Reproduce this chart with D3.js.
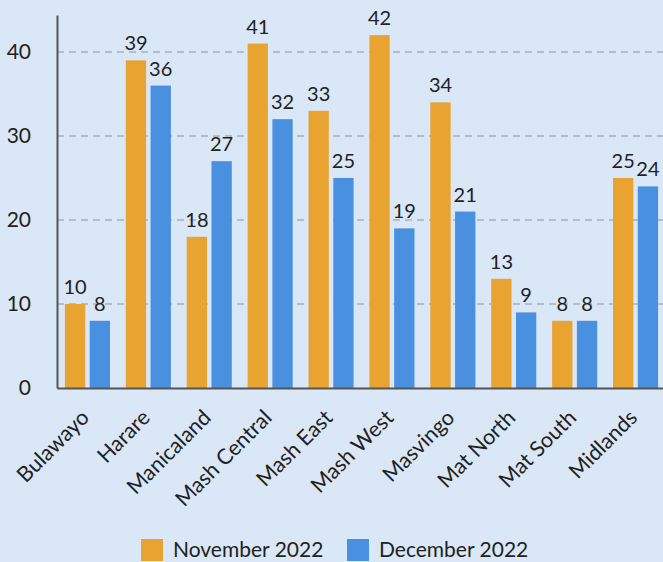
<!DOCTYPE html>
<html>
<head>
<meta charset="utf-8">
<script src="https://cdn.jsdelivr.net/npm/d3@7"></script>
<style>
  html, body { margin: 0; padding: 0; background: #d9e7f7; }
  svg { display: block; font-family: Lato, "Open Sans", sans-serif; }
</style>
</head>
<body>
<div id="chart"></div>
<script>
var regions = ["Bulawayo", "Harare", "Manicaland", "Mash Central", "Mash East",
               "Mash West", "Masvingo", "Mat North", "Mat South", "Midlands"];
var november = [10, 39, 18, 41, 33, 42, 34, 13, 8, 25];
var december = [8, 36, 27, 32, 25, 19, 21, 9, 8, 24];
var seriesNames = ["November 2022", "December 2022"];
var yTicks = [0, 10, 20, 30, 40];

var width = 663, height = 562;
var colors = ["#e8a331", "#4a90e0"];

var data = regions.map((r, i) => ({region: r, values: [november[i], december[i]]}));

var svg = d3.select("#chart").append("svg")
    .attr("width", width)
    .attr("height", height);

var x0 = d3.scaleBand()
    .domain(regions)
    .range([57, 666])
    .paddingInner(0.26)
    .paddingOuter(0.13);

var x1 = d3.scaleBand()
    .domain([0, 1])
    .range([0, x0.bandwidth()])
    .paddingInner(0.18);

var y = d3.scaleLinear()
    .domain([0, 44.4])
    .range([388, 15]);

// gridlines
svg.append("g")
  .selectAll("line")
  .data(yTicks.filter(d => d > 0))
  .join("line")
    .attr("x1", 57)
    .attr("x2", width)
    .attr("y1", d => y(d))
    .attr("y2", d => y(d))
    .attr("stroke", "#a9b0b8")
    .attr("stroke-width", 1.5)
    .attr("stroke-dasharray", "7,5");

// bars
var groups = svg.append("g")
  .selectAll("g")
  .data(data)
  .join("g")
    .attr("transform", d => `translate(${x0(d.region)},0)`);

groups.selectAll("rect")
  .data(d => d.values)
  .join("rect")
    .attr("x", (d, i) => x1(i))
    .attr("y", d => y(d))
    .attr("width", x1.bandwidth())
    .attr("height", d => y(0) - y(d))
    .attr("fill", (d, i) => colors[i]);

groups.selectAll("text")
  .data(d => d.values)
  .join("text")
    .attr("x", (d, i) => x1(i) + x1.bandwidth() / 2)
    .attr("y", d => y(d) - 10)
    .attr("text-anchor", "middle")
    .style("font-size", "20px")
    .style("fill", "#222")
    .text(d => d);

// y axis
var yAxis = d3.axisLeft(y)
    .tickValues(yTicks)
    .tickSize(0)
    .tickPadding(26);

var gy = svg.append("g")
    .attr("transform", "translate(57,0)")
    .call(yAxis);
gy.select(".domain").attr("stroke", "#555").attr("stroke-width", 2);
gy.selectAll("text").style("font-size", "21px").style("fill", "#222")
    .style("font-family", "Lato, sans-serif");

// x axis
var xAxis = d3.axisBottom(x0).tickSize(0).tickSizeOuter(0);
var gx = svg.append("g")
    .attr("transform", "translate(0,388)")
    .call(xAxis);
gx.select(".domain").attr("stroke", "#555").attr("stroke-width", 2);
gx.selectAll("text")
    .style("font-size", "21.5px")
    .style("fill", "#222")
    .style("font-family", "Lato, sans-serif")
    .style("text-anchor", "end")
    .attr("x", 0)
    .attr("y", 0)
    .attr("dy", 0)
    .attr("transform", "translate(3,31) rotate(-45)");

// legend
var legendX = [141, 347];
var legend = svg.append("g")
  .selectAll("g")
  .data(seriesNames)
  .join("g")
    .attr("transform", (d, i) => `translate(${legendX[i]},539)`);
legend.append("rect")
    .attr("width", 22)
    .attr("height", 22)
    .attr("fill", (d, i) => colors[i]);
legend.append("text")
    .attr("x", 32)
    .attr("y", 18)
    .style("font-size", "21px")
    .style("fill", "#222")
    .text(d => d);
</script>
</body>
</html>
